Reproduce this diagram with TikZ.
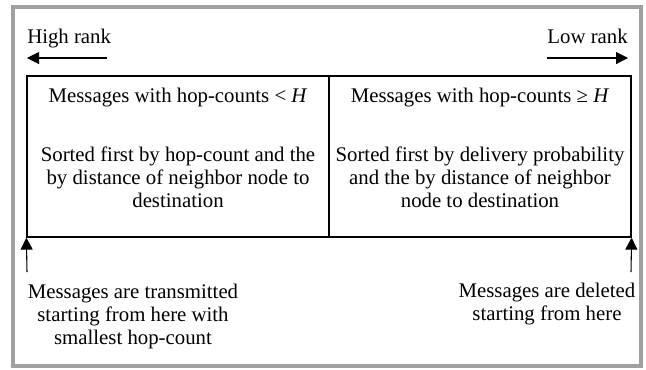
\documentclass[tikz,border=0pt]{standalone}
\usepackage{fontspec}
\setmainfont{Liberation Serif}
\usetikzlibrary{arrows.meta}
\definecolor{framegray}{HTML}{A0A0A0}
\tikzset{
  cell/.style={draw, line width=0.9pt, minimum width=226.5pt, minimum height=120.75pt, inner sep=0pt},
  txt/.style={align=center, inner sep=0pt},
  rankarrow/.style={line width=0.8pt, -{Triangle[length=9pt,width=9pt]}},
}
\begin{document}
\begin{tikzpicture}[x=0.75pt,y=-0.75pt,font=\fontsize{15.6}{17.25}\selectfont]
\useasboundingbox (0,0) rectangle (646,369);
% outer frame
\draw[framegray, line width=3pt] (13,7) rectangle (641,366);

% the two halves of the queue
\node[cell] (lowcell) at (178,156.5) {};
\node[cell] (highcell) at (480,156.5) {};

\node[txt] (lowtitle) at (178,98) {Messages with hop-counts < \textit{H}};
\node[txt] (lowdesc) at (178,177) {Sorted first by hop-count and the\\by distance of neighbor node to\\destination};
\node[txt] (hightitle) at (480,98) {Messages with hop-counts ≥ \textit{H}};
\node[txt] (highdesc) at (480,177) {Sorted first by delivery probability\\and the by distance of neighbor\\node to destination};

% rank direction
\node[txt, anchor=base west] (hirank) at (27,43) {High rank};
\node[txt, anchor=base east] (lorank) at (628,43) {Low rank};
\coordinate (hiA) at (107,58);
\coordinate (hiB) at (27,58);
\coordinate (loA) at (547,58);
\coordinate (loB) at (628,58);
\draw[rankarrow] (hiA) -- (hiB);
\draw[rankarrow] (loA) -- (loB);

% ends of the queue
\coordinate (sendtail) at (27,272);
\coordinate (deltail) at (631,272);
\draw[rankarrow] (sendtail) -- (lowcell.south west);
\draw[rankarrow] (deltail) -- (highcell.south east);

\node[txt] (sendnote) at (133,316) {Messages are transmitted\\starting from here with\\smallest hop-count};
\node[txt] (delnote) at (547,304.5) {Messages are deleted\\starting from here};
\end{tikzpicture}
\end{document}
